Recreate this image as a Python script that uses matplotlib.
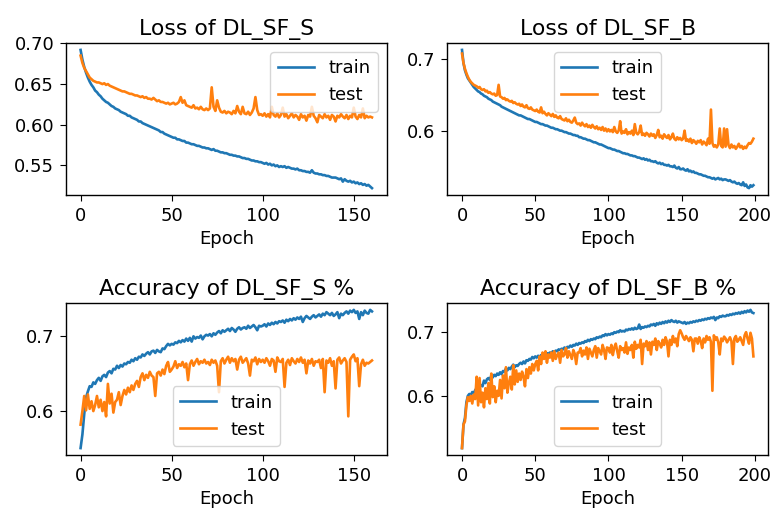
import numpy as np
import matplotlib as mpl
mpl.use("Agg")
mpl.rcParams['font.size'] = 13
mpl.rcParams['axes.titlesize'] = 15.8
mpl.rcParams['axes.titlepad'] = 6.0
mpl.rcParams['lines.linewidth'] = 1.9
mpl.rcParams['axes.linewidth'] = 1.0
mpl.rcParams['xtick.major.size'] = 4.5
mpl.rcParams['ytick.major.size'] = 4.5
mpl.rcParams['xtick.major.pad'] = 4.0
mpl.rcParams['ytick.major.pad'] = 4.0
import matplotlib.pyplot as plt

#-----------------------------------------------------------------------------
# training history (one value per epoch)
#-----------------------------------------------------------------------------
loss_S_train = [
 0.692, 0.680, 0.671, 0.664, 0.658, 0.653, 0.649, 0.646, 0.642, 0.640,
 0.637, 0.635, 0.632, 0.630, 0.628, 0.627, 0.625, 0.623, 0.622, 0.620,
 0.619, 0.618, 0.616, 0.615, 0.614, 0.613, 0.611, 0.611, 0.609, 0.608,
 0.607, 0.606, 0.604, 0.604, 0.602, 0.601, 0.600, 0.599, 0.598, 0.597,
 0.596, 0.595, 0.594, 0.593, 0.591, 0.591, 0.589, 0.588, 0.587, 0.586,
 0.585, 0.584, 0.584, 0.582, 0.582, 0.581, 0.580, 0.580, 0.578, 0.578,
 0.577, 0.576, 0.576, 0.575, 0.574, 0.574, 0.573, 0.572, 0.572, 0.571,
 0.571, 0.570, 0.569, 0.570, 0.568, 0.568, 0.567, 0.566, 0.566, 0.565,
 0.565, 0.564, 0.563, 0.563, 0.562, 0.562, 0.561, 0.561, 0.560, 0.559,
 0.559, 0.558, 0.558, 0.557, 0.556, 0.556, 0.555, 0.555, 0.554, 0.554,
 0.553, 0.552, 0.553, 0.551, 0.552, 0.550, 0.551, 0.549, 0.550, 0.548,
 0.549, 0.548, 0.549, 0.547, 0.548, 0.547, 0.546, 0.546, 0.545, 0.546,
 0.544, 0.544, 0.543, 0.543, 0.542, 0.542, 0.541, 0.544, 0.541, 0.540,
 0.540, 0.539, 0.539, 0.538, 0.538, 0.537, 0.537, 0.536, 0.535, 0.535,
 0.535, 0.534, 0.533, 0.534, 0.530, 0.533, 0.531, 0.530, 0.531, 0.529,
 0.530, 0.528, 0.529, 0.527, 0.528, 0.526, 0.527, 0.525, 0.526, 0.524, 0.522]
loss_S_test = [
 0.685, 0.676, 0.670, 0.666, 0.662, 0.658, 0.656, 0.654, 0.653, 0.652,
 0.652, 0.651, 0.650, 0.651, 0.649, 0.650, 0.648, 0.647, 0.646, 0.645,
 0.644, 0.643, 0.642, 0.641, 0.641, 0.640, 0.639, 0.638, 0.638, 0.637,
 0.636, 0.636, 0.635, 0.634, 0.635, 0.633, 0.634, 0.632, 0.632, 0.631,
 0.633, 0.631, 0.629, 0.630, 0.628, 0.628, 0.627, 0.626, 0.627, 0.625,
 0.626, 0.627, 0.625, 0.626, 0.628, 0.634, 0.627, 0.630, 0.624, 0.623,
 0.622, 0.621, 0.624, 0.620, 0.621, 0.619, 0.622, 0.619, 0.618, 0.620,
 0.618, 0.620, 0.646, 0.622, 0.617, 0.630, 0.621, 0.616, 0.615, 0.617,
 0.614, 0.616, 0.615, 0.613, 0.617, 0.614, 0.623, 0.616, 0.613, 0.622,
 0.614, 0.613, 0.616, 0.612, 0.615, 0.620, 0.634, 0.618, 0.612, 0.613,
 0.611, 0.614, 0.610, 0.613, 0.609, 0.622, 0.612, 0.610, 0.614, 0.609,
 0.612, 0.621, 0.610, 0.613, 0.608, 0.611, 0.614, 0.609, 0.612, 0.610,
 0.606, 0.613, 0.609, 0.611, 0.605, 0.612, 0.610, 0.622, 0.611, 0.608,
 0.603, 0.612, 0.610, 0.608, 0.613, 0.609, 0.611, 0.606, 0.612, 0.610,
 0.604, 0.611, 0.609, 0.613, 0.610, 0.608, 0.612, 0.607, 0.611, 0.609,
 0.621, 0.610, 0.607, 0.612, 0.609, 0.620, 0.608, 0.611, 0.609, 0.610, 0.609]

loss_B_train = [
 0.712, 0.694, 0.684, 0.678, 0.673, 0.670, 0.667, 0.664, 0.661, 0.659,
 0.657, 0.655, 0.654, 0.652, 0.651, 0.649, 0.648, 0.647, 0.645, 0.644,
 0.643, 0.641, 0.640, 0.639, 0.638, 0.637, 0.636, 0.634, 0.633, 0.632,
 0.631, 0.630, 0.629, 0.628, 0.627, 0.626, 0.625, 0.624, 0.623, 0.622,
 0.622, 0.621, 0.620, 0.619, 0.618, 0.617, 0.617, 0.616, 0.615, 0.614,
 0.613, 0.613, 0.612, 0.611, 0.610, 0.610, 0.609, 0.608, 0.608, 0.607,
 0.606, 0.605, 0.605, 0.604, 0.603, 0.603, 0.602, 0.601, 0.601, 0.600,
 0.599, 0.599, 0.598, 0.597, 0.597, 0.596, 0.595, 0.595, 0.594, 0.594,
 0.592, 0.592, 0.591, 0.590, 0.590, 0.589, 0.588, 0.588, 0.587, 0.586,
 0.585, 0.585, 0.584, 0.583, 0.582, 0.582, 0.581, 0.580, 0.579, 0.578,
 0.577, 0.577, 0.576, 0.575, 0.575, 0.574, 0.573, 0.573, 0.572, 0.571,
 0.570, 0.570, 0.569, 0.569, 0.568, 0.567, 0.567, 0.566, 0.566, 0.565,
 0.564, 0.564, 0.563, 0.562, 0.563, 0.561, 0.562, 0.560, 0.561, 0.559,
 0.559, 0.558, 0.559, 0.557, 0.556, 0.557, 0.555, 0.556, 0.554, 0.554,
 0.553, 0.554, 0.552, 0.552, 0.551, 0.553, 0.550, 0.549, 0.551, 0.548,
 0.548, 0.549, 0.547, 0.546, 0.548, 0.545, 0.546, 0.544, 0.545, 0.543,
 0.543, 0.542, 0.541, 0.541, 0.540, 0.539, 0.539, 0.538, 0.537, 0.537,
 0.536, 0.535, 0.536, 0.534, 0.535, 0.536, 0.534, 0.535, 0.533, 0.534,
 0.534, 0.533, 0.532, 0.533, 0.531, 0.530, 0.531, 0.529, 0.528, 0.529,
 0.527, 0.526, 0.530, 0.525, 0.527, 0.523, 0.522, 0.526, 0.524, 0.526]
loss_B_test = [
 0.707, 0.694, 0.686, 0.680, 0.675, 0.671, 0.668, 0.666, 0.664, 0.663,
 0.662, 0.660, 0.661, 0.658, 0.657, 0.658, 0.655, 0.656, 0.653, 0.654,
 0.652, 0.651, 0.652, 0.649, 0.650, 0.664, 0.648, 0.647, 0.645, 0.646,
 0.643, 0.644, 0.642, 0.641, 0.642, 0.639, 0.640, 0.638, 0.637, 0.638,
 0.635, 0.637, 0.634, 0.633, 0.636, 0.632, 0.631, 0.633, 0.630, 0.629,
 0.628, 0.630, 0.627, 0.626, 0.633, 0.625, 0.627, 0.624, 0.622, 0.625,
 0.623, 0.621, 0.624, 0.620, 0.622, 0.619, 0.618, 0.621, 0.617, 0.616,
 0.615, 0.618, 0.614, 0.616, 0.613, 0.612, 0.615, 0.619, 0.612, 0.610,
 0.611, 0.608, 0.612, 0.609, 0.607, 0.610, 0.606, 0.608, 0.605, 0.609,
 0.606, 0.604, 0.607, 0.603, 0.605, 0.602, 0.606, 0.601, 0.604, 0.600,
 0.603, 0.600, 0.602, 0.599, 0.606, 0.600, 0.598, 0.601, 0.614, 0.597,
 0.600, 0.598, 0.603, 0.596, 0.599, 0.597, 0.601, 0.595, 0.610, 0.598,
 0.596, 0.599, 0.608, 0.595, 0.597, 0.594, 0.598, 0.596, 0.593, 0.597,
 0.594, 0.596, 0.591, 0.595, 0.602, 0.592, 0.594, 0.590, 0.596, 0.593,
 0.591, 0.595, 0.589, 0.592, 0.597, 0.590, 0.588, 0.592, 0.589, 0.591,
 0.588, 0.590, 0.601, 0.587, 0.589, 0.586, 0.590, 0.584, 0.588, 0.586,
 0.583, 0.587, 0.585, 0.588, 0.582, 0.586, 0.584, 0.581, 0.590, 0.583,
 0.630, 0.584, 0.579, 0.581, 0.578, 0.582, 0.604, 0.580, 0.578, 0.604,
 0.579, 0.603, 0.581, 0.577, 0.582, 0.578, 0.580, 0.576, 0.579, 0.583,
 0.578, 0.580, 0.576, 0.579, 0.577, 0.581, 0.584, 0.583, 0.586, 0.590]

acc_S_train = [
 0.551, 0.569, 0.596, 0.618, 0.626, 0.633, 0.632, 0.638, 0.636, 0.641,
 0.644, 0.640, 0.646, 0.648, 0.645, 0.651, 0.653, 0.650, 0.656, 0.655,
 0.660, 0.657, 0.661, 0.659, 0.663, 0.662, 0.665, 0.664, 0.668, 0.666,
 0.670, 0.668, 0.672, 0.671, 0.675, 0.673, 0.676, 0.678, 0.675, 0.679,
 0.680, 0.677, 0.681, 0.679, 0.678, 0.683, 0.682, 0.686, 0.689, 0.687,
 0.689, 0.688, 0.691, 0.690, 0.693, 0.691, 0.694, 0.692, 0.696, 0.693,
 0.697, 0.692, 0.699, 0.696, 0.698, 0.697, 0.700, 0.695, 0.699, 0.701,
 0.700, 0.702, 0.699, 0.703, 0.701, 0.704, 0.706, 0.703, 0.707, 0.705,
 0.707, 0.709, 0.706, 0.710, 0.708, 0.705, 0.709, 0.711, 0.708, 0.710,
 0.711, 0.709, 0.713, 0.710, 0.712, 0.714, 0.711, 0.707, 0.713, 0.712,
 0.713, 0.715, 0.712, 0.716, 0.714, 0.717, 0.715, 0.718, 0.716, 0.719,
 0.718, 0.720, 0.717, 0.721, 0.719, 0.722, 0.720, 0.723, 0.721, 0.724,
 0.722, 0.725, 0.718, 0.723, 0.726, 0.724, 0.722, 0.725, 0.727, 0.724,
 0.726, 0.728, 0.725, 0.729, 0.727, 0.731, 0.729, 0.727, 0.730, 0.726,
 0.728, 0.731, 0.723, 0.729, 0.727, 0.730, 0.732, 0.729, 0.733, 0.731,
 0.734, 0.730, 0.732, 0.722, 0.731, 0.727, 0.733, 0.730, 0.729, 0.734, 0.732]
acc_S_test = [
 0.582, 0.600, 0.620, 0.601, 0.622, 0.603, 0.613, 0.600, 0.608, 0.620,
 0.605, 0.615, 0.600, 0.612, 0.593, 0.636, 0.610, 0.623, 0.598, 0.612,
 0.615, 0.625, 0.608, 0.620, 0.628, 0.622, 0.631, 0.625, 0.634, 0.628,
 0.636, 0.640, 0.632, 0.645, 0.650, 0.641, 0.648, 0.644, 0.652, 0.647,
 0.645, 0.620, 0.650, 0.652, 0.647, 0.655, 0.649, 0.660, 0.665, 0.652,
 0.655, 0.659, 0.666, 0.657, 0.662, 0.660, 0.665, 0.658, 0.663, 0.641,
 0.662, 0.667, 0.660, 0.665, 0.669, 0.662, 0.666, 0.664, 0.668, 0.663,
 0.665, 0.661, 0.668, 0.664, 0.667, 0.660, 0.625, 0.666, 0.670, 0.663,
 0.668, 0.672, 0.664, 0.670, 0.666, 0.669, 0.655, 0.668, 0.672, 0.664,
 0.667, 0.670, 0.663, 0.647, 0.668, 0.666, 0.671, 0.662, 0.669, 0.665,
 0.668, 0.664, 0.670, 0.666, 0.660, 0.669, 0.667, 0.652, 0.671, 0.666,
 0.665, 0.669, 0.632, 0.664, 0.668, 0.661, 0.670, 0.666, 0.663, 0.669,
 0.665, 0.671, 0.664, 0.668, 0.650, 0.667, 0.663, 0.669, 0.660, 0.666,
 0.665, 0.668, 0.657, 0.669, 0.625, 0.667, 0.664, 0.670, 0.660, 0.666,
 0.630, 0.668, 0.671, 0.663, 0.667, 0.670, 0.665, 0.593, 0.668, 0.672,
 0.675, 0.666, 0.670, 0.633, 0.662, 0.668, 0.660, 0.664, 0.663, 0.665, 0.667]

acc_B_train = [
 0.518, 0.555, 0.565, 0.590, 0.600, 0.603, 0.601, 0.606, 0.604, 0.609,
 0.612, 0.608, 0.614, 0.617, 0.615, 0.624, 0.620, 0.626, 0.628, 0.625,
 0.632, 0.629, 0.633, 0.631, 0.635, 0.633, 0.637, 0.634, 0.639, 0.638,
 0.643, 0.640, 0.644, 0.642, 0.646, 0.649, 0.645, 0.648, 0.647, 0.650,
 0.652, 0.650, 0.654, 0.651, 0.656, 0.655, 0.658, 0.657, 0.661, 0.659,
 0.662, 0.660, 0.663, 0.661, 0.664, 0.663, 0.666, 0.664, 0.667, 0.666,
 0.668, 0.667, 0.670, 0.669, 0.671, 0.670, 0.673, 0.672, 0.674, 0.673,
 0.676, 0.674, 0.677, 0.676, 0.679, 0.677, 0.680, 0.679, 0.682, 0.680,
 0.683, 0.682, 0.684, 0.683, 0.686, 0.685, 0.688, 0.686, 0.689, 0.688,
 0.690, 0.689, 0.692, 0.691, 0.693, 0.692, 0.695, 0.694, 0.697, 0.695,
 0.697, 0.696, 0.698, 0.697, 0.700, 0.699, 0.701, 0.700, 0.703, 0.701,
 0.702, 0.701, 0.704, 0.703, 0.705, 0.704, 0.706, 0.704, 0.707, 0.705,
 0.706, 0.712, 0.705, 0.708, 0.707, 0.709, 0.708, 0.710, 0.709, 0.712,
 0.711, 0.713, 0.710, 0.714, 0.712, 0.715, 0.713, 0.716, 0.714, 0.717,
 0.715, 0.718, 0.716, 0.719, 0.717, 0.716, 0.718, 0.715, 0.717, 0.716,
 0.715, 0.714, 0.716, 0.713, 0.715, 0.714, 0.716, 0.715, 0.717, 0.716,
 0.718, 0.717, 0.719, 0.718, 0.720, 0.719, 0.721, 0.720, 0.722, 0.721,
 0.723, 0.722, 0.724, 0.719, 0.723, 0.722, 0.725, 0.724, 0.726, 0.725,
 0.725, 0.727, 0.726, 0.728, 0.727, 0.729, 0.728, 0.730, 0.729, 0.731,
 0.729, 0.732, 0.730, 0.733, 0.731, 0.734, 0.732, 0.735, 0.731, 0.730]
acc_B_test = [
 0.518, 0.555, 0.560, 0.585, 0.598, 0.592, 0.600, 0.588, 0.602, 0.595,
 0.630, 0.585, 0.628, 0.590, 0.605, 0.582, 0.612, 0.595, 0.620, 0.588,
 0.635, 0.598, 0.615, 0.590, 0.608, 0.600, 0.625, 0.596, 0.632, 0.612,
 0.645, 0.605, 0.620, 0.630, 0.610, 0.648, 0.618, 0.640, 0.622, 0.635,
 0.625, 0.638, 0.630, 0.615, 0.642, 0.628, 0.645, 0.635, 0.650, 0.640,
 0.650, 0.655, 0.640, 0.662, 0.650, 0.668, 0.658, 0.670, 0.652, 0.665,
 0.660, 0.668, 0.655, 0.670, 0.658, 0.664, 0.668, 0.652, 0.672, 0.662,
 0.665, 0.675, 0.660, 0.670, 0.664, 0.658, 0.672, 0.666, 0.650, 0.668,
 0.668, 0.675, 0.662, 0.671, 0.665, 0.676, 0.658, 0.674, 0.668, 0.662,
 0.672, 0.678, 0.660, 0.675, 0.670, 0.665, 0.680, 0.672, 0.658, 0.676,
 0.675, 0.668, 0.680, 0.664, 0.676, 0.682, 0.670, 0.660, 0.678, 0.672,
 0.675, 0.668, 0.684, 0.666, 0.676, 0.672, 0.680, 0.660, 0.685, 0.674,
 0.680, 0.676, 0.688, 0.650, 0.682, 0.678, 0.686, 0.672, 0.684, 0.665,
 0.685, 0.680, 0.690, 0.672, 0.686, 0.682, 0.676, 0.688, 0.680, 0.692,
 0.685, 0.662, 0.688, 0.680, 0.694, 0.684, 0.690, 0.678, 0.697, 0.703,
 0.698, 0.692, 0.688, 0.694, 0.690, 0.686, 0.692, 0.688, 0.670, 0.690,
 0.690, 0.682, 0.692, 0.686, 0.675, 0.690, 0.684, 0.694, 0.688, 0.692,
 0.685, 0.608, 0.695, 0.688, 0.692, 0.684, 0.665, 0.690, 0.686, 0.693,
 0.690, 0.684, 0.688, 0.692, 0.686, 0.650, 0.690, 0.694, 0.685, 0.688,
 0.692, 0.686, 0.680, 0.695, 0.700, 0.690, 0.682, 0.699, 0.690, 0.662]

#-----------------------------------------------------------------------------
fig, ax = plt.subplots(2, 2, figsize=(7.73, 5.14), dpi=100)
plt.subplots_adjust(left=0.0854, right=0.9935, top=0.9163, bottom=0.1148,
                    wspace=0.19, hspace=0.71)

panels = [(ax[0,0], loss_S_train, loss_S_test, "Loss of DL_SF_S", "upper right"),
          (ax[0,1], loss_B_train, loss_B_test, "Loss of DL_SF_B", "upper center"),
          (ax[1,0], acc_S_train, acc_S_test, "Accuracy of DL_SF_S %", "lower center"),
          (ax[1,1], acc_B_train, acc_B_test, "Accuracy of DL_SF_B %", "lower center")]

for a, tr, te, title, loc in panels:
    a.plot(np.arange(len(tr)), tr, label="train")
    a.plot(np.arange(len(te)), te, label="test")
    a.set_title(title)
    a.set_xlabel("Epoch")
    a.legend(loc=loc)

ax[0,0].set_yticks([0.55, 0.60, 0.65, 0.70])

fig.savefig("out.png", dpi=100)
